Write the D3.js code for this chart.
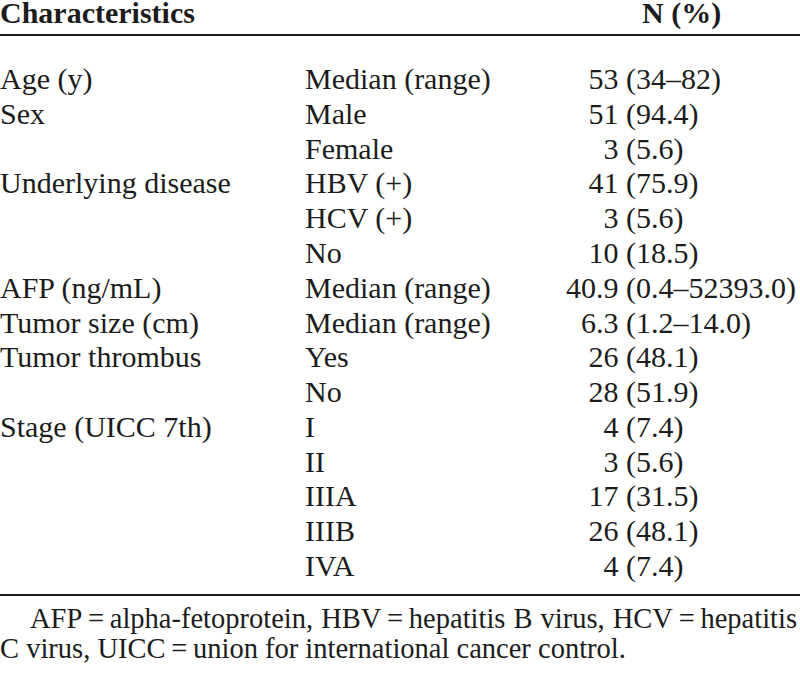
<!DOCTYPE html>
<html>
<head>
<meta charset="utf-8">
<script src="https://cdn.jsdelivr.net/npm/d3@7"></script>
<style>
  html, body { margin: 0; padding: 0; background: #fff; }
  svg { display: block; }
  text { font-family: "Liberation Serif", "Times New Roman", serif; fill: #1c1c1c; }
</style>
</head>
<body>
<svg id="chart"></svg>
<script>
'use strict';

var headers = ['Characteristics', 'N (%)'];

var characteristics = ['Age (y)', 'Sex', '', 'Underlying disease', '', '',
  'AFP (ng/mL)', 'Tumor size (cm)', 'Tumor thrombus', '', 'Stage (UICC 7th)', '', '', '', ''];

var subgroups = ['Median (range)', 'Male', 'Female', 'HBV (+)', 'HCV (+)', 'No',
  'Median (range)', 'Median (range)', 'Yes', 'No', 'I', 'II', 'IIIA', 'IIIB', 'IVA'];

var counts = ['53', '51', '3', '41', '3', '10', '40.9', '6.3', '26', '28', '4', '3', '17', '26', '4'];

var spreads = ['(34\u201382)', '(94.4)', '(5.6)', '(75.9)', '(5.6)', '(18.5)',
  '(0.4\u201352393.0)', '(1.2\u201314.0)', '(48.1)', '(51.9)', '(7.4)', '(5.6)',
  '(31.5)', '(48.1)', '(7.4)'];

var footnotes = [
  'AFP\u2009=\u2009alpha-fetoprotein, HBV\u2009=\u2009hepatitis B virus, HCV\u2009=\u2009hepatitis',
  'C virus, UICC\u2009=\u2009union for international cancer control.'
];

var width = 800;
var height = 673;
var fontSize = 30;
var footSize = 28.5;

var svg = d3.select('#chart')
  .attr('width', width)
  .attr('height', height);

// row centres: first row ~79, last ~566
var y = d3.scalePoint()
  .domain(d3.range(counts.length))
  .range([79, 566]);

var colLabel = 0;
var colSub = 305;
var colParen = 626;
var gap = 7.5;
var baseShift = 10;

function translate(x, yy) {
  return 'translate(' + x + ', ' + yy + ')';
}

// header
svg.append('text')
  .attr('x', colLabel)
  .attr('y', 23)
  .style('font-size', fontSize + 'px')
  .style('font-weight', 'bold')
  .text(headers[0]);

svg.append('text')
  .attr('x', 642)
  .attr('y', 23)
  .style('font-size', fontSize + 'px')
  .style('font-weight', 'bold')
  .text(headers[1]);

// rules
svg.append('rect')
  .attr('x', 0).attr('y', 34)
  .attr('width', width).attr('height', 2)
  .attr('fill', '#1c1c1c');

svg.append('rect')
  .attr('x', 0).attr('y', 594)
  .attr('width', width).attr('height', 2)
  .attr('fill', '#1c1c1c');

var rows = svg.append('g')
  .attr('class', 'rows')
  .selectAll('g')
  .data(d3.range(counts.length))
  .enter()
  .append('g')
  .attr('transform', function (i) {
    return translate(0, y(i) + baseShift);
  })
  .style('font-size', fontSize + 'px');

rows.append('text')
  .attr('x', colLabel)
  .text(function (i) { return characteristics[i]; });

rows.append('text')
  .attr('x', colSub)
  .text(function (i) { return subgroups[i]; });

// counts right aligned so the opening parens line up
rows.append('text')
  .attr('x', colParen - gap)
  .attr('text-anchor', 'end')
  .text(function (i) { return counts[i]; });

rows.append('text')
  .attr('x', colParen)
  .text(function (i) { return spreads[i]; });

// footnote, first line justified to the right edge
var footX = 30;
var foot1 = svg.append('text')
  .attr('x', footX)
  .attr('y', 628)
  .style('font-size', footSize + 'px')
  .text(footnotes[0]);

var natural = foot1.node().getComputedTextLength();
var spaces = footnotes[0].split(' ').length - 1;
var target = 797 - footX;
if (spaces > 0) {
  foot1.attr('word-spacing', ((target - natural) / spaces) + 'px');
}

svg.append('text')
  .attr('x', 0)
  .attr('y', 658)
  .style('font-size', footSize + 'px')
  .text(footnotes[1]);
</script>
</body>
</html>
